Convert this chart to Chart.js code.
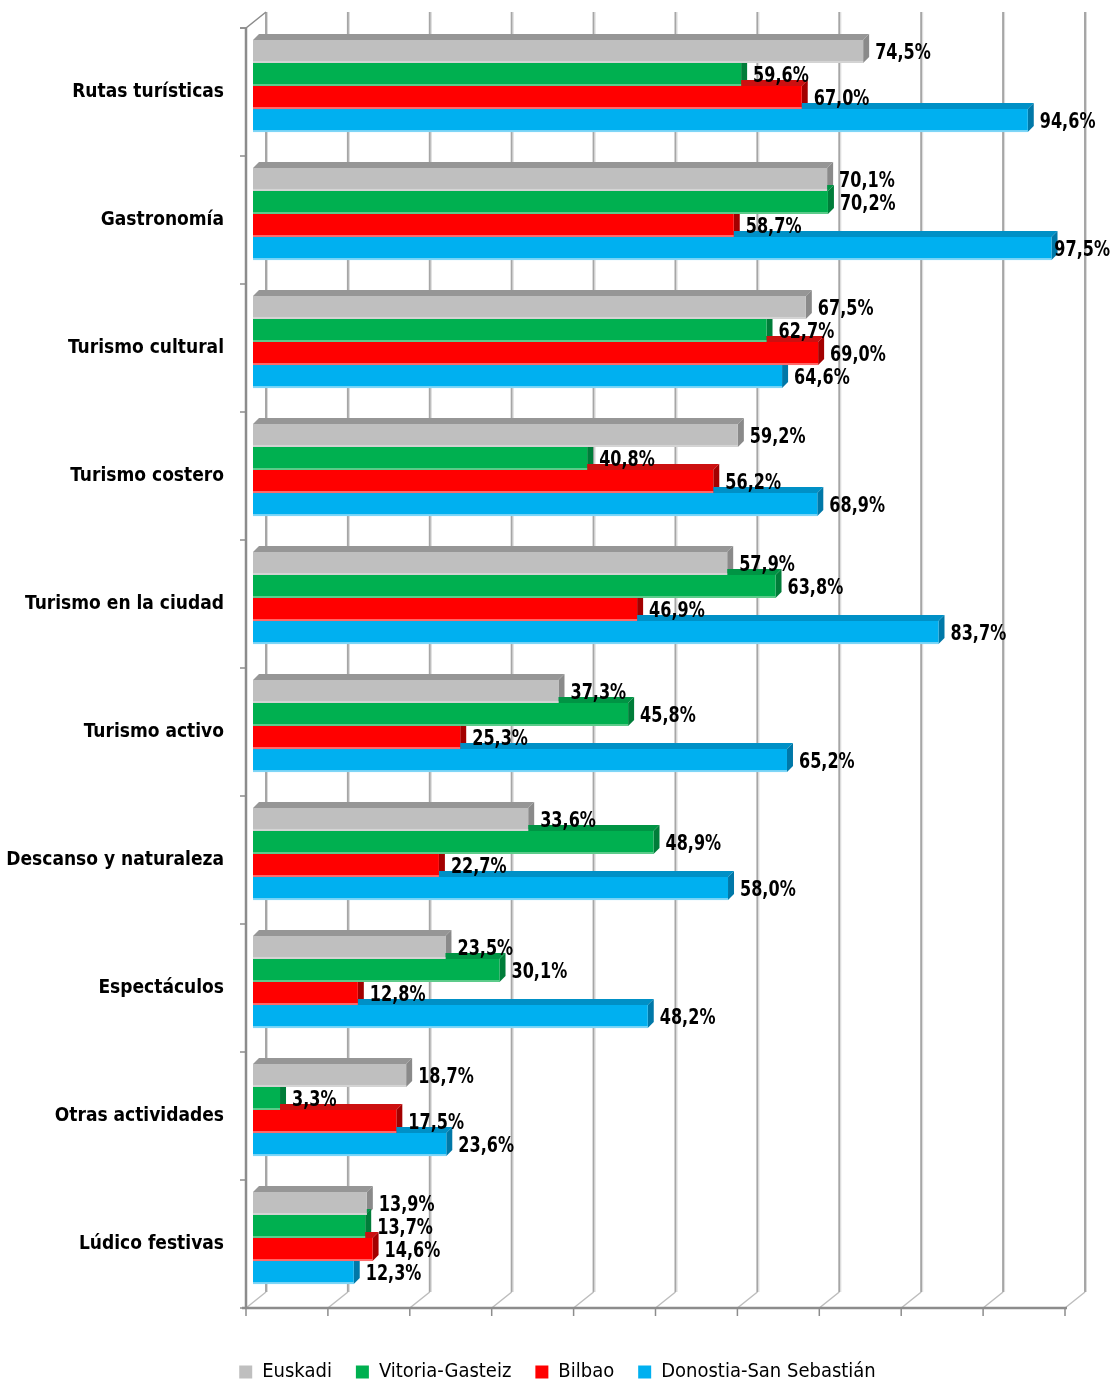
<!DOCTYPE html>
<html>
<head>
<meta charset="utf-8">
<script src="https://cdn.jsdelivr.net/npm/chart.js@4.4.1/dist/chart.umd.min.js"></script>
<style>
  html, body { margin: 0; padding: 0; background: #fff; }
  canvas { display: block; }
</style>
</head>
<body>
<canvas id="tourChart" width="1115" height="1383"></canvas>
<script>
const categories = [
    'Rutas turísticas', 'Gastronomía', 'Turismo cultural', 'Turismo costero',
    'Turismo en la ciudad', 'Turismo activo', 'Descanso y naturaleza',
    'Espectáculos', 'Otras actividades', 'Lúdico festivas'
];
const euskadi   = [74.5, 70.1, 67.5, 59.2, 57.9, 37.3, 33.6, 23.5, 18.7, 13.9];
const vitoria   = [59.6, 70.2, 62.7, 40.8, 63.8, 45.8, 48.9, 30.1, 3.3, 13.7];
const bilbao    = [67.0, 58.7, 69.0, 56.2, 46.9, 25.3, 22.7, 12.8, 17.5, 14.6];
const donostia  = [94.6, 97.5, 64.6, 68.9, 83.7, 65.2, 58.0, 48.2, 23.6, 12.3];
const gridTicks = [0, 10, 20, 30, 40, 50, 60, 70, 80, 90, 100];

const FONT = "'Liberation Sans Narrow', 'Arial Narrow', 'DejaVu Sans Condensed', sans-serif";

// front colour, side (end cap) colour, top face colour, light bottom edge
const seriesStyle = [
    { label: 'Euskadi',                data: euskadi,  face: '#BFBFBF', side: '#8A8A8A', top: '#969696', edge: '#D4D4D4' },
    { label: 'Vitoria-Gasteiz',        data: vitoria,  face: '#00B050', side: '#007D39', top: '#009444', edge: '#5CCB8A' },
    { label: 'Bilbao',                 data: bilbao,   face: '#FF0000', side: '#A30000', top: '#CC1010', edge: '#FF6A6A' },
    { label: 'Donostia-San Sebastián', data: donostia, face: '#00B0F0', side: '#0078A8', top: '#0090C6', edge: '#7FD6F7' },
];

const D = 6; // bar depth in px

function fmt(v) {
    return v.toFixed(1).replace('.', ',') + '%';
}

// draws the 3D walls / floor and the end caps of the bars
const frame3d = {
    id: 'frame3d',
    beforeDatasetsDraw(chart) {
        const ctx = chart.ctx;
        const area = chart.chartArea;
        const xs = chart.scales.x;
        ctx.save();

        // back grid lines
        gridTicks.forEach(v => {
            const x = xs.getPixelForValue(v) + 13;
            ctx.strokeStyle = '#A6A6A6';
            ctx.lineWidth = 2;
            ctx.beginPath();
            ctx.moveTo(x, area.top - 10);
            ctx.lineTo(x, area.bottom - 10);
            ctx.stroke();
            ctx.strokeStyle = '#DADADA';
            ctx.lineWidth = 1;
            ctx.beginPath();
            ctx.moveTo(x + 1.5, area.top - 10);
            ctx.lineTo(x + 1.5, area.bottom - 10);
            ctx.stroke();
            // floor diagonals
            ctx.strokeStyle = '#BDBDBD';
            ctx.lineWidth = 1.5;
            ctx.beginPath();
            ctx.moveTo(x - 20, area.bottom + 6);
            ctx.lineTo(x, area.bottom - 10);
            ctx.stroke();
            // front ticks
            ctx.strokeStyle = '#8C8C8C';
            ctx.lineWidth = 1.5;
            ctx.beginPath();
            ctx.moveTo(x - 20, area.bottom + 6);
            ctx.lineTo(x - 20, area.bottom + 14);
            ctx.stroke();
        });

        // front floor line
        const x0 = xs.getPixelForValue(0) - 7;
        const x100 = xs.getPixelForValue(100) - 7;
        ctx.strokeStyle = '#8C8C8C';
        ctx.lineWidth = 2.5;
        ctx.beginPath();
        ctx.moveTo(x0 - 4, area.bottom + 6);
        ctx.lineTo(x100 + 2, area.bottom + 6);
        ctx.stroke();

        // front left wall
        ctx.beginPath();
        ctx.moveTo(x0, area.top + 6);
        ctx.lineTo(x0, area.bottom + 6);
        ctx.stroke();
        ctx.lineWidth = 1.5;
        ctx.beginPath();
        ctx.moveTo(x0 - 6, area.top + 6);
        ctx.lineTo(x0, area.top + 6);
        ctx.lineTo(x0 + 20, area.top - 10);
        ctx.stroke();
        const band = (area.bottom - area.top) / categories.length;
        for (let i = 0; i <= categories.length; i++) {
            const y = area.top + 6 + band * i;
            ctx.beginPath();
            ctx.moveTo(x0 - 6, y);
            ctx.lineTo(x0, y);
            ctx.stroke();
        }

        // 3D faces of the bars
        chart.data.datasets.forEach((ds, di) => {
            const st = seriesStyle[di];
            chart.getDatasetMeta(di).data.forEach(bar => {
                const left = bar.base;
                const right = bar.x;
                const top = bar.y - bar.height / 2;
                const bottom = bar.y + bar.height / 2;
                ctx.fillStyle = st.top;
                ctx.beginPath();
                ctx.moveTo(left, top);
                ctx.lineTo(left + D, top - D);
                ctx.lineTo(right + D, top - D);
                ctx.lineTo(right, top);
                ctx.closePath();
                ctx.fill();
                ctx.fillStyle = st.side;
                ctx.beginPath();
                ctx.moveTo(right, top);
                ctx.lineTo(right + D, top - D);
                ctx.lineTo(right + D, bottom - D);
                ctx.lineTo(right, bottom);
                ctx.closePath();
                ctx.fill();
            });
        });
        ctx.restore();
    },
    afterDatasetsDraw(chart) {
        const ctx = chart.ctx;
        ctx.save();
        // light bottom edge of every bar
        chart.data.datasets.forEach((ds, di) => {
            const st = seriesStyle[di];
            chart.getDatasetMeta(di).data.forEach(bar => {
                ctx.fillStyle = st.edge;
                ctx.fillRect(bar.base, bar.y + bar.height / 2 - 2, bar.x - bar.base, 2);
            });
        });
        // value labels, squeezed horizontally to look like a narrow face
        const sx = 0.85;
        ctx.font = 'bold 21px ' + FONT;
        ctx.fillStyle = '#000';
        ctx.textBaseline = 'middle';
        ctx.textAlign = 'left';
        chart.data.datasets.forEach((ds, di) => {
            chart.getDatasetMeta(di).data.forEach((bar, i) => {
                const txt = fmt(ds.data[i]);
                const w = ctx.measureText(txt).width * sx;
                const x = Math.min(bar.x + 12, chart.width - 5 - w);
                ctx.save();
                ctx.translate(x, bar.y + 2);
                ctx.scale(sx, 1);
                ctx.fillText(txt, 0, 0);
                ctx.restore();
            });
        });
        ctx.restore();
    }
};

const ctx = document.getElementById('tourChart').getContext('2d');
const chart = new Chart(ctx, {
    type: 'bar',
    data: {
        labels: categories,
        datasets: seriesStyle.map(s => ({
            label: s.label,
            data: s.data,
            backgroundColor: s.face,
            borderWidth: 0,
            categoryPercentage: 0.72,
            barPercentage: 1.0,
            yAxisID: 'y',
        }))
    },
    options: {
        indexAxis: 'y',
        responsive: false,
        animation: false,
        devicePixelRatio: 1,
        layout: { padding: { top: 22, right: 0, left: 0, bottom: -9 } },
        plugins: {
            legend: {
                position: 'bottom',
                labels: {
                    boxWidth: 13,
                    boxHeight: 13,
                    padding: 24,
                    color: '#000',
                    font: { family: FONT, size: 20 }
                }
            },
            tooltip: { enabled: false },
            title: { display: false }
        },
        scales: {
            x: {
                min: 0,
                max: 100,
                grid: { display: false },
                border: { display: false },
                ticks: { display: false, stepSize: 10 },
                afterFit: s => { s.height = 36; }
            },
            y: {
                grid: { display: false, drawTicks: false },
                border: { display: false },
                ticks: {
                    color: '#000',
                    padding: 29,
                    labelOffset: 6,
                    font: { family: FONT, size: 19, weight: 'bold' }
                },
                afterFit: s => {
                    s.width = 253;
                    s.paddingTop = 0;
                    s.paddingBottom = 0;
                }
            },
            // empty right-hand box, keeps room for the 3D depth and the labels
            yRight: {
                type: 'category',
                position: 'right',
                grid: { display: false, drawTicks: false },
                border: { display: false },
                ticks: { display: false },
                afterFit: s => {
                    s.width = 43;
                    s.paddingTop = 0;
                    s.paddingBottom = 0;
                }
            }
        }
    },
    plugins: [frame3d]
});
</script>
</body>
</html>
